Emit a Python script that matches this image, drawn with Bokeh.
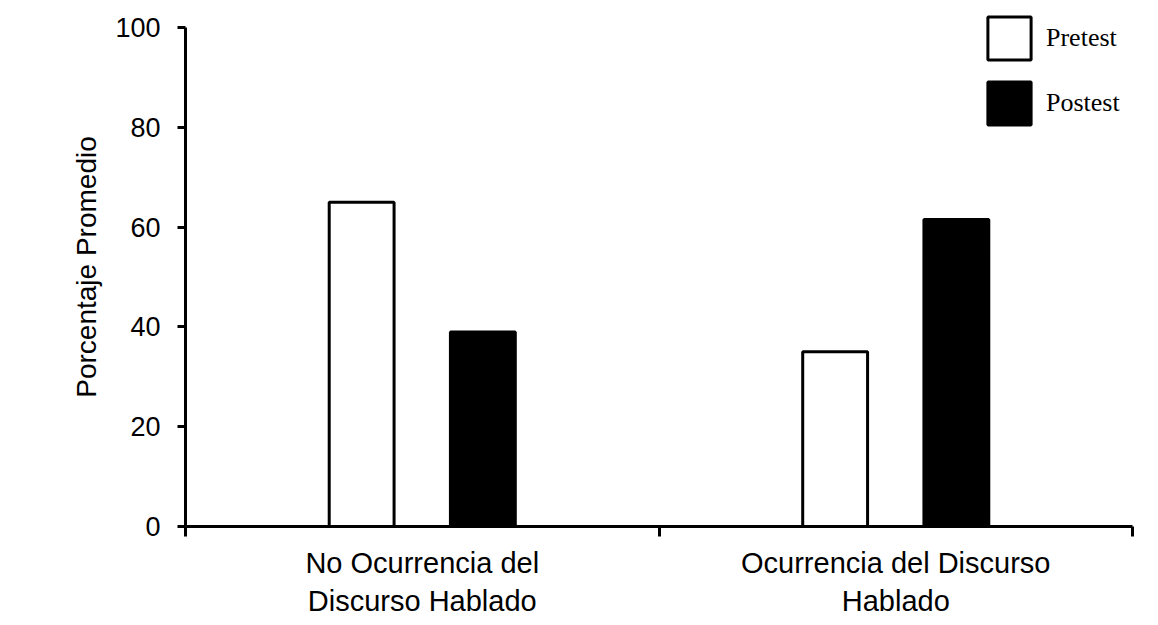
import numpy as np
from bokeh.plotting import figure
from bokeh.models import Range1d, FixedTicker, Legend, LegendItem, ColumnDataSource
from bokeh.embed import file_html
from bokeh.resources import INLINE

categories = ["No Ocurrencia del\nDiscurso Hablado", "Ocurrencia del Discurso\nHablado"]
series_names = ["Pretest", "Postest"]
pretest = [65, 35]
postest = [39, 61.5]
y_ticks = [0, 20, 40, 60, 80, 100]

n = len(categories)
centers = np.arange(n) + 0.5
bar_w = 0.137
offset = 0.128

p = figure(frame_width=947, frame_height=519, output_backend="svg", toolbar_location=None,
           x_range=Range1d(0, n), y_range=Range1d(0, 104),
           min_border_left=185, min_border_top=7, min_border_bottom=85, min_border_right=10)
p.outline_line_color = None
p.xgrid.visible = False
p.ygrid.visible = False
p.background_fill_color = "white"
p.border_fill_color = "white"

src_pre = ColumnDataSource(dict(x=centers - offset, top=pretest))
src_post = ColumnDataSource(dict(x=centers + offset, top=postest))
r_pre = p.vbar(x="x", top="top", width=bar_w, source=src_pre, fill_color="white",
               line_color="black", line_width=3)
r_post = p.vbar(x="x", top="top", width=bar_w, source=src_post, fill_color="black",
                line_color="black", line_width=3)

# x axis
xa = p.xaxis[0]
xa.ticker = FixedTicker(ticks=list(centers), minor_ticks=list(range(n + 1)))
xa.major_label_overrides = {float(c): lab for c, lab in zip(centers, categories)}
xa.major_tick_out = 0
xa.major_tick_in = 0
xa.minor_tick_out = 10
xa.minor_tick_in = 0
xa.minor_tick_line_width = 3
xa.minor_tick_line_color = "black"
xa.axis_line_width = 3
xa.axis_line_color = "black"
xa.major_label_text_font = "Liberation Sans"
xa.major_label_text_font_size = "29px"
xa.major_label_text_color = "black"
xa.major_label_standoff = 10

# y axis
ya = p.yaxis[0]
ya.ticker = FixedTicker(ticks=y_ticks)
ya.bounds = (0, 100)
ya.axis_line_width = 3
ya.axis_line_color = "black"
ya.major_tick_out = 8
ya.major_tick_in = 0
ya.major_tick_line_width = 3
ya.minor_tick_line_color = None
ya.major_label_text_font = "Liberation Sans"
ya.major_label_text_font_size = "27px"
ya.major_label_text_color = "black"
ya.major_label_standoff = 17
ya.axis_label = "Porcentaje Promedio"
ya.axis_label_text_font = "Liberation Sans"
ya.axis_label_text_font_size = "28px"
ya.axis_label_text_font_style = "normal"
ya.axis_label_text_color = "black"
ya.axis_label_standoff = 10

legend = Legend(items=[LegendItem(label=series_names[0], renderers=[r_pre]),
                       LegendItem(label=series_names[1], renderers=[r_post])],
                location=(797, 396), orientation="vertical",
                glyph_width=54, glyph_height=54, spacing=11, padding=0, margin=0,
                label_standoff=10, label_text_font="Liberation Serif",
                label_text_font_size="26px", label_text_color="black",
                border_line_color=None, background_fill_alpha=0)
p.add_layout(legend, "center")

open("out.html", "w").write(file_html(p, INLINE))
